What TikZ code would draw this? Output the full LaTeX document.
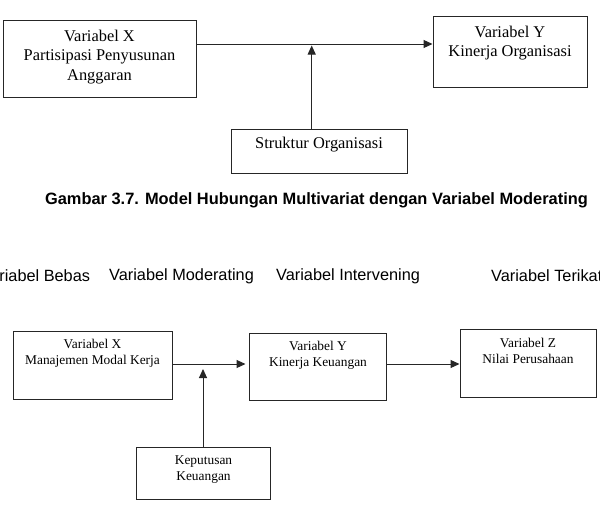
\documentclass[tikz,border=0pt]{standalone}
\usepackage{fontspec}
\setmainfont{Liberation Serif}
\setsansfont{Liberation Sans}
\usetikzlibrary{arrows.meta}
\begin{document}
\begin{tikzpicture}[x=1pt,y=-1pt,
  box/.style={draw=black!85, line width=1pt, inner sep=0pt, rectangle},
  tbig/.style={font=\fontsize{16.4}{19.5}\selectfont, align=center, inner sep=0pt},
  tsmall/.style={font=\fontsize{13.4}{16}\selectfont, align=center, inner sep=0pt},
  lab/.style={font=\sffamily\fontsize{16.3}{19}\selectfont, anchor=west, inner sep=0pt},
  captext/.style={font=\sffamily\bfseries\fontsize{16.4}{20}\selectfont, inner sep=0pt},
  arr/.style={-{Triangle[length=9pt,width=8pt]}, line width=1pt, draw=black!85}]
\useasboundingbox (0,0) rectangle (600,522);
\clip (0,0) rectangle (600,522);
\fill[white] (0,0) rectangle (600,522);

% ---- top diagram ----
\node[box, minimum width=193pt, minimum height=77pt] (bxX) at (99.5,58.5) {};
\node[tbig] (tX) at (99.5,57) {Variabel X\\Partisipasi Penyusunan\\Anggaran};
\node[box, minimum width=154pt, minimum height=71pt] (bxY) at (510,51.5) {};
\node[tbig] (tY) at (510,43) {Variabel Y\\Kinerja Organisasi};
\node[box, minimum width=176pt, minimum height=44pt] (bxS) at (319,151) {};
\node[tbig] (tS) at (319,145) {Struktur Organisasi};
\coordinate (j1) at (311.7,44);
\coordinate (j1t) at (311.7,45.5);
\draw[arr] (bxX.east |- j1) -- (bxY.west |- j1);
\draw[arr] (bxS.north -| j1) -- (j1t);

% ---- caption and labels ----
\node[captext] (capt) at (316.5,200) {Gambar 3.7. Model Hubungan Multivariat dengan Variabel Moderating};
\node[lab] (l1) at (-19.5,276) {Variabel Bebas};
\node[lab] (l2) at (109,276) {Variabel Moderating};
\node[lab] (l3) at (276,276) {Variabel Intervening};
\node[lab] (l4) at (491,276) {Variabel Terikat};

% ---- bottom diagram ----
\node[box, minimum width=159pt, minimum height=68pt] (b2X) at (92.5,365) {};
\node[tsmall] (t2X) at (92.5,353) {Variabel X\\Manajemen Modal Kerja};
\node[box, minimum width=137pt, minimum height=67pt] (b2Y) at (317.5,366.5) {};
\node[tsmall] (t2Y) at (318,355) {Variabel Y\\Kinerja Keuangan};
\node[box, minimum width=136pt, minimum height=68pt] (b2Z) at (528,363) {};
\node[tsmall] (t2Z) at (528,351) {Variabel Z\\Nilai Perusahaan};
\node[box, minimum width=134pt, minimum height=52pt] (b2K) at (203,473) {};
\node[tsmall] (t2K) at (203.5,469.5) {Keputusan\\Keuangan};
\coordinate (j2) at (203,364);
\coordinate (j2t) at (203,369);
\draw[arr] (b2X.east |- j2) -- ([xshift=-3pt]b2Y.west |- j2);
\draw[arr] (b2Y.east |- j2) -- (b2Z.west |- j2);
\draw[arr] (b2K.north -| j2) -- (j2t);
\end{tikzpicture}
\end{document}
